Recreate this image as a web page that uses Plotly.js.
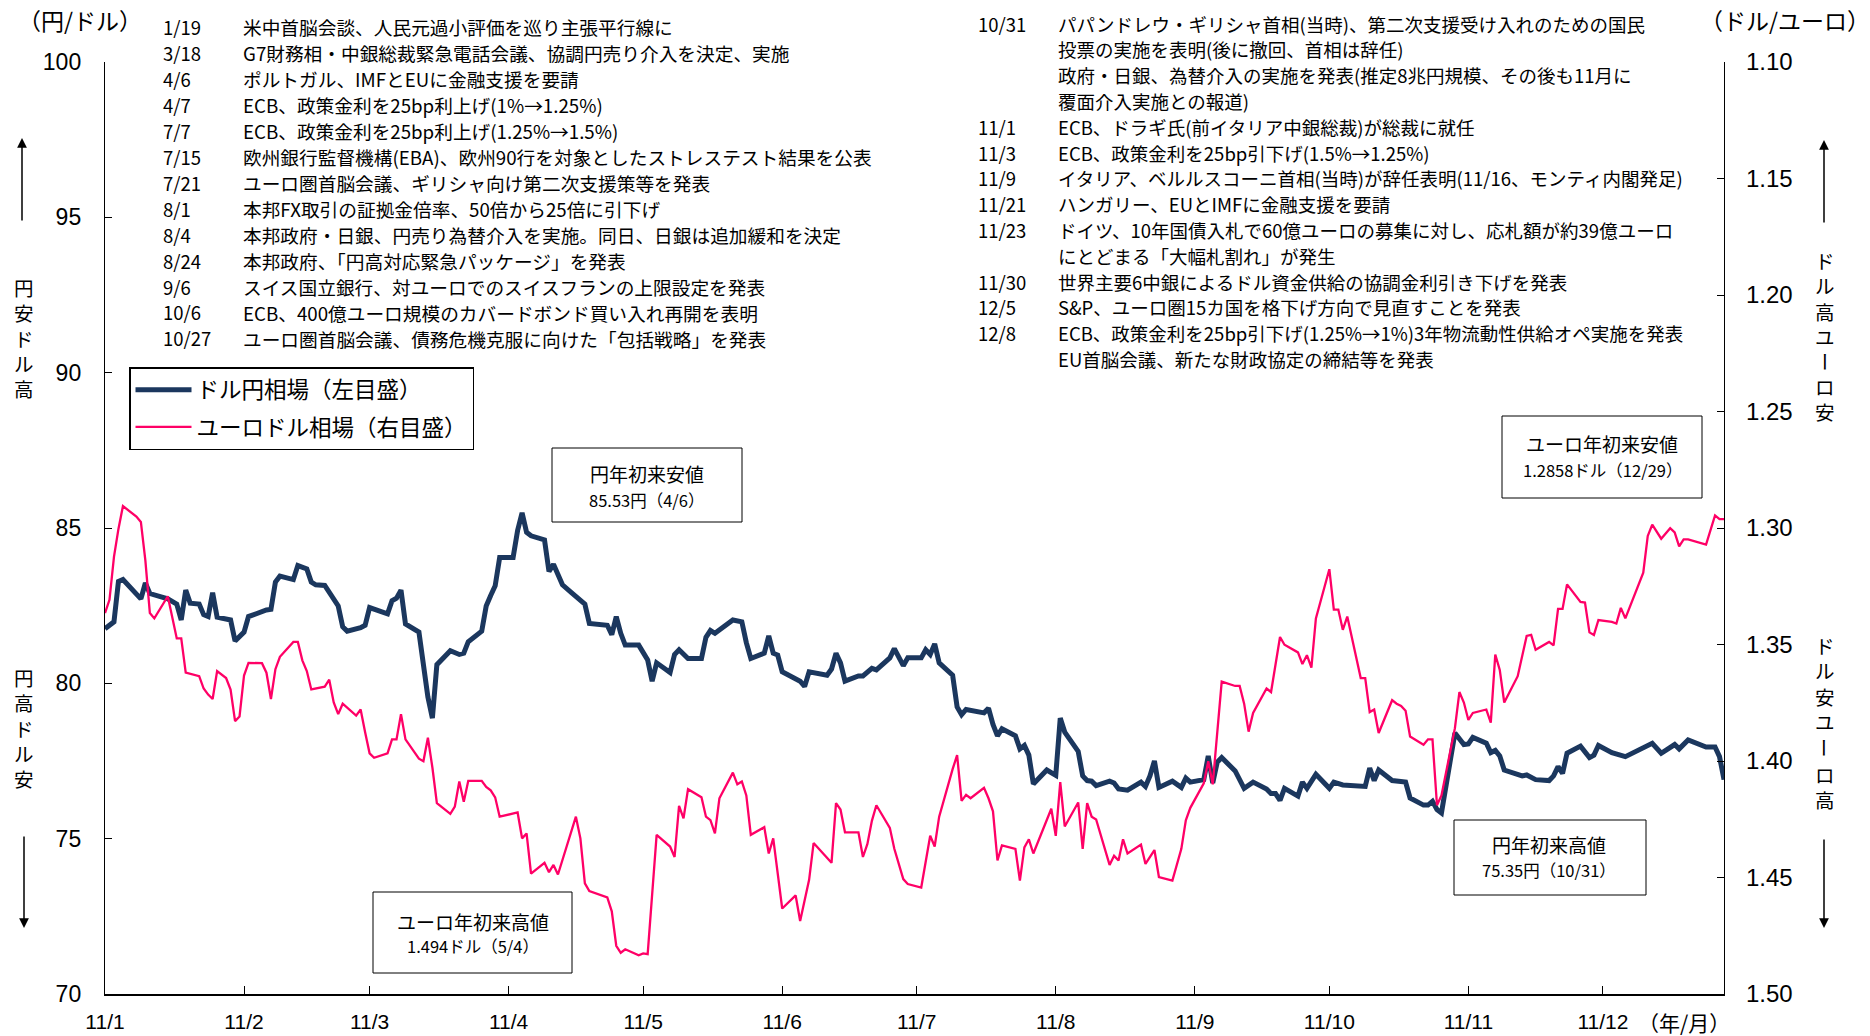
<!DOCTYPE html>
<html><head><meta charset="utf-8">
<script src="https://cdn.plot.ly/plotly-3.0.1.min.js"></script>
<style>html,body{margin:0;padding:0;background:#fff}#chart{width:1870px;height:1036px}</style>
</head><body><div id="chart"></div>
<script>
// ---------- data ----------
const yenDays = [
 '01-03','01-05','01-06','01-07','01-11','01-12','01-13','01-14','01-17','01-19','01-20','01-21','01-22','01-24','01-25','01-26','01-27','01-28','01-31',
 '02-01','02-02','02-03','02-04','02-06','02-08','02-09','02-10','02-11','02-14','02-15','02-17','02-18','02-19','02-21','02-23','02-24','02-25','02-26',
 '03-01','03-02','03-03','03-05','03-07','03-08','03-09','03-10','03-11','03-14','03-15','03-16','03-17','03-18','03-21','03-23','03-24','03-25','03-28','03-29','03-30','03-31',
 '04-01','04-04','04-05','04-06','04-07','04-08','04-11','04-12','04-13','04-15','04-17','04-19','04-20','04-21','04-25','04-26','04-27','04-28','04-29',
 '05-02','05-04','05-05','05-06','05-09','05-10','05-11','05-13','05-16','05-17','05-18','05-19','05-23','05-25','05-26','05-27','05-30','05-31',
 '06-01','06-02','06-03','06-06','06-07','06-08','06-09','06-13','06-14','06-15','06-16','06-17','06-20','06-21','06-23','06-24','06-27','06-28','06-29','06-30',
 '07-01','07-04','07-05','07-06','07-07','07-08','07-11','07-12','07-13','07-14','07-18','07-19','07-20','07-21','07-22','07-25','07-26','07-27','07-28','07-29',
 '08-01','08-03','08-04','08-05','08-08','08-09','08-10','08-11','08-12','08-15','08-16','08-17','08-19','08-22','08-23','08-24','08-25','08-26','08-29','08-31',
 '09-01','09-02','09-05','09-06','09-07','09-08','09-09','09-12','09-14','09-16','09-19','09-20','09-21','09-22','09-23','09-26','09-27','09-28','09-30',
 '10-03','10-04','10-06','10-11','10-12','10-13','10-14','10-17','10-20','10-21','10-24','10-25','10-26','10-27','10-28','10-31',
 '11-02','11-03','11-04','11-07','11-08','11-09','11-10','11-11','11-15','11-16','11-18','11-21','11-22','11-23','11-24','11-25','11-28','11-30',
 '12-01','12-02','12-05','12-08','12-12','12-14','12-16','12-19','12-20','12-22','12-26','12-28','12-29','12-30'
];
const yenValues = [
 81.76,81.98,83.28,83.34,82.72,83.23,82.89,82.85,82.72,82.55,82.04,83.00,82.58,82.55,82.21,82.15,82.92,82.13,82.04,
 81.36,81.50,81.65,82.15,82.27,82.36,82.38,83.26,83.45,83.34,83.79,83.68,83.26,83.17,83.15,82.74,82.49,81.82,81.68,
 81.79,81.87,82.44,82.32,82.24,82.66,82.74,83.00,81.91,81.65,80.46,79.56,78.88,80.60,81.05,80.93,80.97,81.34,81.68,82.49,82.83,83.14,
 84.05,84.05,84.92,85.49,84.86,84.75,84.62,83.60,83.83,83.17,82.92,82.66,82.55,81.93,81.87,81.57,82.15,81.61,81.23,
 81.23,80.75,80.07,80.66,80.35,80.93,81.08,80.80,80.80,81.48,81.70,81.61,82.04,81.98,81.31,80.80,80.97,81.53,
 80.97,80.91,80.37,80.12,80.07,79.90,80.37,80.26,80.46,80.97,80.66,80.07,80.24,80.24,80.48,80.43,80.82,81.12,80.86,80.57,
 80.82,80.82,81.08,80.93,81.27,80.66,80.26,79.24,78.99,79.16,79.05,79.20,78.68,78.31,78.54,78.31,77.89,78.00,77.69,76.76,
 77.21,77.04,78.88,78.43,77.81,77.02,76.87,76.85,76.71,76.85,76.79,76.60,76.56,76.82,76.68,77.02,77.50,76.65,76.85,76.65,
 76.95,76.82,76.90,77.66,76.79,77.46,77.61,77.18,76.62,76.82,76.60,76.45,76.45,76.23,76.62,76.37,76.82,76.62,77.07,
 76.62,76.82,76.73,76.68,77.27,76.87,77.21,76.87,76.82,76.31,76.08,76.08,76.20,75.94,75.83,78.40,
 78.03,78.05,78.26,78.07,77.77,77.84,77.66,77.21,77.02,77.05,76.90,76.87,77.02,77.32,77.10,77.75,77.98,77.61,
 77.69,78.00,77.77,77.64,77.92,78.07,77.75,78.03,77.89,78.18,77.95,77.95,77.64,76.90
];
const eurDays = [
 '01-03','01-04','01-05','01-06','01-07','01-10','01-11','01-12','01-13','01-14','01-17','01-19','01-20','01-21','01-24','01-25','01-26','01-27','01-28','01-30','01-31',
 '02-01','02-02','02-03','02-04','02-07','02-08','02-09','02-10','02-11','02-14','02-15','02-16','02-17','02-18','02-21','02-22','02-23','02-24','02-25','02-28',
 '03-01','03-02','03-03','03-04','03-07','03-08','03-09','03-10','03-11','03-14','03-15','03-16','03-17','03-18','03-21','03-22','03-23','03-24','03-25','03-28','03-29','03-30','03-31',
 '04-01','04-05','04-06','04-07','04-08','04-11','04-12','04-13','04-14','04-18','04-19','04-20','04-21','04-25','04-26','04-27','04-28','04-29',
 '05-02','05-03','05-04','05-06','05-09','05-10','05-11','05-12','05-13','05-16','05-17','05-18','05-19','05-20','05-23','05-24','05-25','05-26','05-27','05-30','05-31',
 '06-01','06-03','06-06','06-07','06-08','06-09','06-10','06-14','06-15','06-16','06-17','06-20','06-21','06-22','06-23','06-24','06-27','06-28','06-30',
 '07-01','07-04','07-06','07-07','07-08','07-11','07-12','07-13','07-14','07-15','07-18','07-19','07-20','07-21','07-22','07-25','07-26','07-27','07-28','07-29',
 '08-02','08-03','08-04','08-05','08-08','08-09','08-10','08-11','08-12','08-15','08-16','08-17','08-18','08-19','08-22','08-23','08-25','08-26','08-29','08-31',
 '09-01','09-02','09-05','09-06','09-07','09-09','09-12','09-13','09-14','09-15','09-16','09-19','09-20','09-22','09-23','09-26','09-27','09-28','09-29','09-30',
 '10-03','10-04','10-05','10-06','10-07','10-10','10-11','10-12','10-13','10-14','10-17','10-18','10-19','10-20','10-21','10-24','10-25','10-26','10-27','10-28','10-31',
 '11-01','11-02','11-03','11-04','11-07','11-08','11-09','11-10','11-11','11-14','11-16','11-17','11-18','11-21','11-22','11-23','11-24','11-25','11-28','11-29','11-30',
 '12-01','12-02','12-05','12-06','12-07','12-08','12-12','12-13','12-14','12-16','12-18','12-19','12-20','12-21','12-22','12-26','12-28','12-29','12-30'
];
const eurValues = [
 1.3365,1.3308,1.3124,1.3004,1.2906,1.2951,1.2974,1.3139,1.3365,1.3388,1.3293,1.3474,1.3474,1.3621,1.3636,1.3689,1.3715,1.3734,1.3614,1.3644,1.3693,
 1.3829,1.3809,1.3633,1.3579,1.3580,1.3621,1.3734,1.3606,1.3553,1.3489,1.3489,1.3568,1.3614,1.3693,1.3681,1.3651,1.3749,1.3799,1.3754,1.3805,
 1.3779,1.3877,1.3967,1.3986,1.3967,1.3907,1.3907,1.3799,1.3907,1.3990,1.4001,1.3900,1.4028,1.4181,1.4227,1.4196,1.4088,1.4175,1.4085,1.4085,1.4111,1.4126,1.4156,
 1.4239,1.4221,1.4332,1.4311,1.4483,1.4437,1.4477,1.4446,1.4487,1.4239,1.4332,1.4525,1.4558,1.4585,1.4645,1.4793,1.4823,1.4808,
 1.4834,1.4826,1.4829,1.4317,1.4367,1.4412,1.4193,1.4246,1.4121,1.4156,1.4239,1.4254,1.4311,1.4160,1.4050,1.4100,1.4088,1.4148,1.4317,1.4284,1.4397,
 1.4332,1.4633,1.4577,1.4687,1.4592,1.4510,1.4352,1.4437,1.4181,1.4208,1.4306,1.4306,1.4412,1.4356,1.4257,1.4190,1.4287,1.4377,1.4507,
 1.4528,1.4543,1.4321,1.4367,1.4239,1.4035,1.3975,1.4171,1.4145,1.4160,1.4115,1.4160,1.4216,1.4427,1.4362,1.4377,1.4513,1.4371,1.4336,1.4397,
 1.4205,1.4321,1.4091,1.4281,1.4178,1.4377,1.4181,1.4239,1.4251,1.4446,1.4407,1.4427,1.4336,1.4397,1.4359,1.4442,1.4382,1.4498,1.4513,1.4377,
 1.4255,1.4201,1.4096,1.4001,1.4100,1.3659,1.3678,1.3678,1.3754,1.3874,1.3794,1.3689,1.3704,1.3468,1.3501,1.3534,1.3584,1.3546,1.3599,1.3388,
 1.3177,1.3350,1.3350,1.3437,1.3380,1.3644,1.3644,1.3790,1.3779,1.3880,1.3739,1.3754,1.3764,1.3784,1.3895,1.3930,1.3907,1.3907,1.4190,1.4148,1.3859,
 1.3704,1.3749,1.3824,1.3794,1.3779,1.3835,1.3543,1.3609,1.3749,1.3636,1.3463,1.3459,1.3523,1.3489,1.3504,1.3347,1.3347,1.3242,1.3317,1.3320,1.3448,
 1.3459,1.3395,1.3403,1.3410,1.3343,1.3388,1.3192,1.3034,1.2986,1.3046,1.3001,1.3019,1.3079,1.3049,1.3049,1.3071,1.2946,1.2962,1.2962
];
const tickDays = ['01-03','02-03','03-03','04-03','05-03','06-03','07-03','08-03','09-03','10-03','11-03','12-03'];
const tickLabels = ['11/1','11/2','11/3','11/4','11/5','11/6','11/7','11/8','11/9','11/10','11/11','11/12'];
const seriesNames = ['ドル円相場（左目盛）','ユーロドル相場（右目盛）'];

const leftEventDates = ['1/19','3/18','4/6','4/7','7/7','7/15','7/21','8/1','8/4','8/24','9/6','10/6','10/27'];
const leftEventTexts = [
 '米中首脳会談、人民元過小評価を巡り主張平行線に',
 'G7財務相・中銀総裁緊急電話会議、協調円売り介入を決定、実施',
 'ポルトガル、IMFとEUに金融支援を要請',
 'ECB、政策金利を25bp利上げ(1%→1.25%)',
 'ECB、政策金利を25bp利上げ(1.25%→1.5%)',
 '欧州銀行監督機構(EBA)、欧州90行を対象としたストレステスト結果を公表',
 'ユーロ圏首脳会議、ギリシャ向け第二次支援策等を発表',
 '本邦FX取引の証拠金倍率、50倍から25倍に引下げ',
 '本邦政府・日銀、円売り為替介入を実施。同日、日銀は追加緩和を決定',
 '本邦政府、「円高対応緊急パッケージ」を発表',
 'スイス国立銀行、対ユーロでのスイスフランの上限設定を発表',
 'ECB、400億ユーロ規模のカバードボンド買い入れ再開を表明',
 'ユーロ圏首脳会議、債務危機克服に向けた「包括戦略」を発表'
];
const rightEventDates = ['10/31','','','','11/1','11/3','11/9','11/21','11/23','','11/30','12/5','12/8',''];
const rightEventTexts = [
 'パパンドレウ・ギリシャ首相(当時)、第二次支援受け入れのための国民',
 '投票の実施を表明(後に撤回、首相は辞任)',
 '政府・日銀、為替介入の実施を発表(推定8兆円規模、その後も11月に',
 '覆面介入実施との報道)',
 'ECB、ドラギ氏(前イタリア中銀総裁)が総裁に就任',
 'ECB、政策金利を25bp引下げ(1.5%→1.25%)',
 'イタリア、ベルルスコーニ首相(当時)が辞任表明(11/16、モンティ内閣発足)',
 'ハンガリー、EUとIMFに金融支援を要請',
 'ドイツ、10年国債入札で60億ユーロの募集に対し、応札額が約39億ユーロ',
 'にとどまる「大幅札割れ」が発生',
 '世界主要6中銀によるドル資金供給の協調金利引き下げを発表',
 'S&P、ユーロ圏15カ国を格下げ方向で見直すことを発表',
 'ECB、政策金利を25bp引下げ(1.25%→1%)3年物流動性供給オペ実施を発表',
 'EU首脳会議、新たな財政協定の締結等を発表'
];
const boxTitles = ['円年初来安値','ユーロ年初来安値','ユーロ年初来高値','円年初来高値'];
const boxValues = ['85.53円（4/6）','1.2858ドル（12/29）','1.494ドル（5/4）','75.35円（10/31）'];

// ---------- styling ----------
const JP = '"Noto Sans CJK JP", "Noto Sans", sans-serif';
const NUM = '"Liberation Sans", Arial, sans-serif';
const NAVY = '#1B375E', PINK = '#FF0066';
const L = 105, R = 146, T = 62, B = 42, W = 1870, H = 1036;
const PW = W - L - R, PH = H - T - B;
const px2x = px => (px - L) / PW;
const py2y = py => (H - B - py) / PH;

const traces = [
 {x: yenDays.map(d => '2011-' + d), y: yenValues, type: 'scatter', mode: 'lines', name: seriesNames[0],
  line: {color: NAVY, width: 5}, legendgroup: 'a', hoverinfo: 'x+y'},
 {x: eurDays.map(d => '2011-' + d), y: eurValues, type: 'scatter', mode: 'lines', name: seriesNames[1],
  yaxis: 'y2', line: {color: PINK, width: 2.3}, legendgroup: 'b', hoverinfo: 'x+y'}
];

const ann = [];
const txt = (text, px, py, size, anchor, extra) => ann.push(Object.assign({
  text, x: px2x(px), y: py2y(py), xref: 'paper', yref: 'paper', showarrow: false,
  xanchor: anchor || 'left', yanchor: 'middle', font: {family: JP, size, color: '#000'}
}, extra || {}));

leftEventDates.forEach((d, i) => {
  const py = 27 + i * 25.95;
  txt(d, 161, py, 18.5);
  txt(leftEventTexts[i], 241, py, 18.7);
});
rightEventTexts.forEach((t, i) => {
  const py = 23.5 + i * 25.8;
  if (rightEventDates[i]) txt(rightEventDates[i], 976, py, 18.5);
  txt(t, 1056, py, 18.5);
});

txt('（円/ドル）', 80, 20, 23, 'center');
txt('（ドル/ユーロ）', 1785, 20, 23, 'center');
txt('（年/月）', 1684, 1022, 21, 'center');

// vertical side labels: stacked characters; the long-vowel mark is turned upright
const stack = s => [...s].join('<br>');
const vtext = (s, px, pyc) => txt(stack(s), px, pyc, 19.5, 'center');
vtext('円安ドル高', 24, 338);
vtext('円高ドル安', 24, 728);
vtext('ドル高ユ', 1825, 298);
txt('ー', 1825, 362, 19.5, 'center', {textangle: 90});
vtext('ロ安', 1825, 399);
vtext('ドル安ユ', 1825, 683);
txt('ー', 1825, 748, 19.5, 'center', {textangle: 90});
vtext('ロ高', 1825, 787);

const arrow = (px, py, ay) => ann.push({text: '', x: px2x(px), y: py2y(py), xref: 'paper', yref: 'paper',
  showarrow: true, ax: 0, ay, arrowhead: 2, arrowsize: 1.3, arrowwidth: 1.5, arrowcolor: '#000'});
arrow(22, 138, 84);
arrow(24, 928, -93);
arrow(1824, 140, 84);
arrow(1824, 928, -90);

// boxes: [x0, x1, top, bottom, cx, line1 y, line2 y]
const boxes = [
 [552, 742, 448, 522, 647, 473, 500],
 [1502, 1702, 416, 498, 1602, 443, 470],
 [373, 572, 892, 973, 473, 921, 946],
 [1454, 1646, 820, 895, 1549, 844, 870]
];
const shapes = boxes.map(b => ({type: 'rect', xref: 'paper', yref: 'paper',
  x0: px2x(b[0]), x1: px2x(b[1]), y0: py2y(b[3]), y1: py2y(b[2]),
  line: {color: '#000', width: 1}, fillcolor: '#fff', layer: 'above'}));
boxes.forEach((b, i) => {
  txt(boxTitles[i], b[4], b[5], 19, 'center');
  txt(boxValues[i], b[4], b[6], 16.5, 'center');
});

const layout = {
  width: W, height: H,
  margin: {l: L, r: R, t: T, b: B},
  paper_bgcolor: '#fff', plot_bgcolor: '#fff',
  showlegend: true,
  legend: {x: px2x(129), y: py2y(367), xanchor: 'left', yanchor: 'top',
    bordercolor: '#000', borderwidth: 1.5, bgcolor: '#fff',
    font: {family: JP, size: 22.5, color: '#000'}, tracegroupgap: 5, itemwidth: 56},
  xaxis: {type: 'date', range: ['2011-01-03', '2011-12-30'],
    tickvals: tickDays.map(d => '2011-' + d), ticktext: tickLabels,
    ticks: 'inside', ticklen: 8, tickwidth: 1, tickcolor: '#000',
    showline: true, linecolor: '#000', linewidth: 2, showgrid: false, zeroline: false,
    tickfont: {family: NUM, size: 21, color: '#000'}, ticklabelstandoff: 8},
  yaxis: {range: [70, 100], tick0: 70, dtick: 5, ticks: 'inside', ticklen: 7, tickcolor: '#000',
    showline: true, linecolor: '#000', linewidth: 1.2, showgrid: false, zeroline: false,
    tickfont: {family: NUM, size: 23, color: '#000'}, ticklabelstandoff: 18},
  yaxis2: {overlaying: 'y', side: 'right', range: [1.5, 1.1], tick0: 1.1, dtick: 0.05, tickformat: '.2f',
    ticks: 'inside', ticklen: 7, tickcolor: '#000',
    showline: true, linecolor: '#000', linewidth: 1.2, showgrid: false, zeroline: false,
    tickfont: {family: NUM, size: 24, color: '#000'}, ticklabelstandoff: 16},
  annotations: ann,
  shapes: shapes
};
Plotly.newPlot('chart', traces, layout, {displayModeBar: false, staticPlot: true});
</script></body></html>
